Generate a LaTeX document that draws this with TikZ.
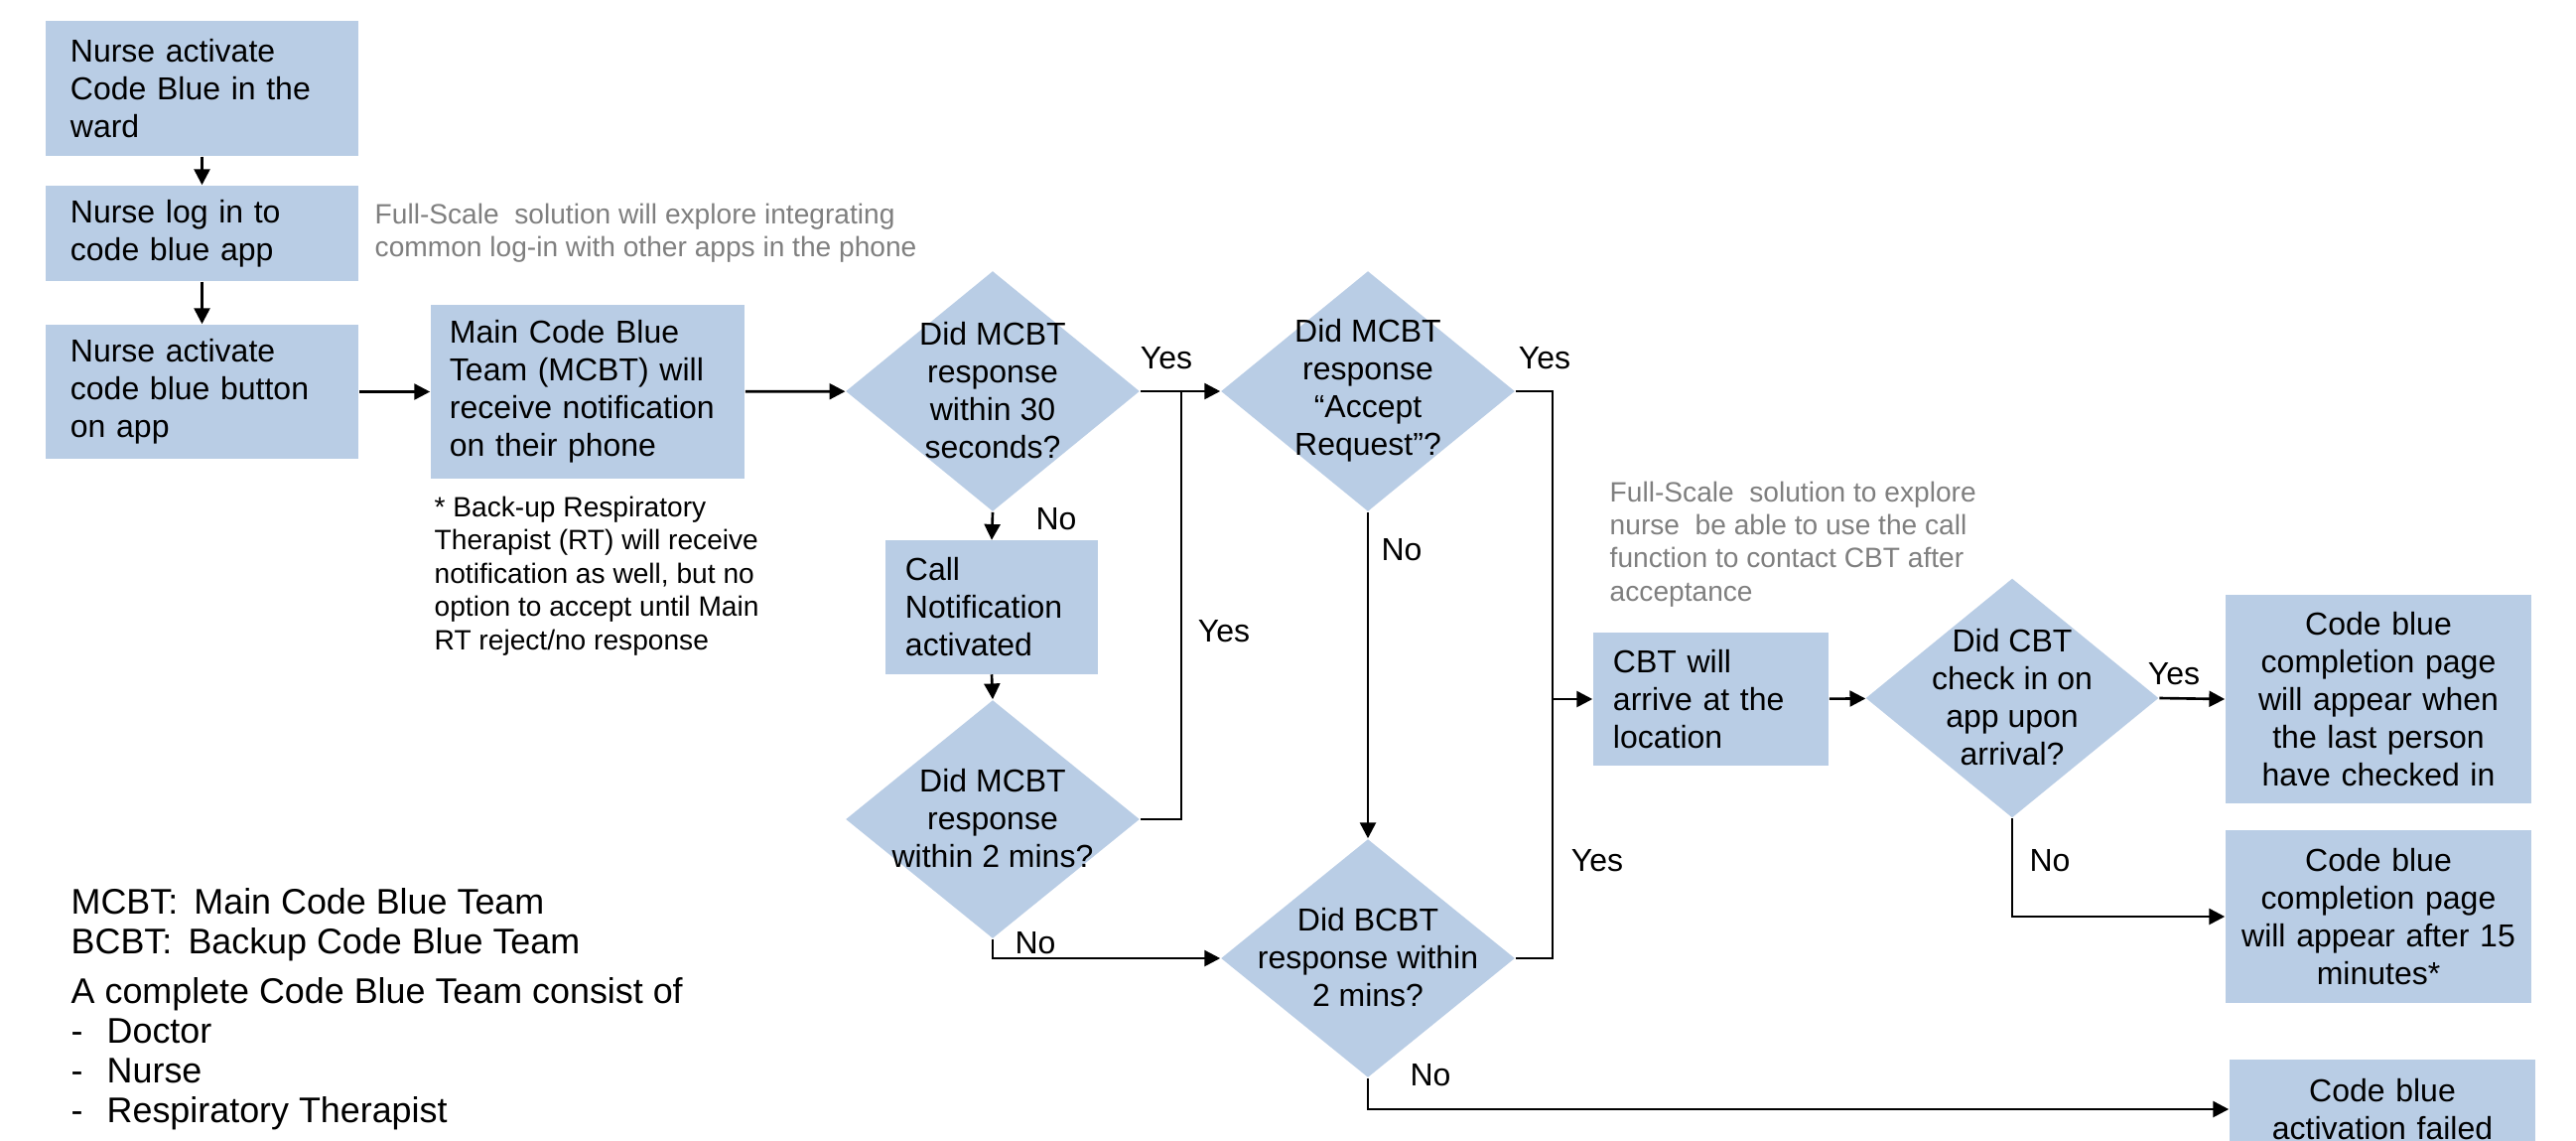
\documentclass[tikz,border=0pt]{standalone}
\usepackage{fontspec}
\setmainfont{Liberation Sans}
\usetikzlibrary{arrows.meta,shapes.geometric}
\definecolor{boxblue}{HTML}{B9CDE5}
\definecolor{notegray}{HTML}{7F7F7F}
\tikzset{
  base/.style={font=\fontsize{9.1}{10.8}\selectfont},
  stepbox/.style={base, fill=boxblue, inner ysep=0pt, align=left},
  endbox/.style={base, fill=boxblue, inner sep=0pt, align=center, text width=2.95cm},
  decision/.style={base, diamond, fill=boxblue, inner sep=0pt},
  flow/.style={line width=0.75pt, -{Triangle[length=4.5pt,width=4.5pt]}},
  link/.style={line width=0.75pt},
  lbl/.style={base, inner sep=0pt},
  note/.style={font=\fontsize{8}{9.5}\selectfont, align=left, inner sep=0pt, anchor=west},
  legend/.style={font=\fontsize{10.2}{11.4}\selectfont, align=left, inner sep=0pt, anchor=west},
}
\newcommand\dtxt[1]{\makebox[0pt]{\smash{\raisebox{-2pt}{\parbox[c]{3cm}{\centering #1}}}}}
\begin{document}
\begin{tikzpicture}[x=0.01cm,y=-0.01cm]
\useasboundingbox (0,0) rectangle (2595,1148);
\clip (0,0) rectangle (2595,1148);

% process boxes
\node[stepbox, minimum width=3.15cm, minimum height=1.36cm, text width=2.65cm, inner xsep=0.25cm] (A) at (203.5,89) {Nurse activate\\Code Blue in the\\ward};
\node[stepbox, minimum width=3.15cm, minimum height=0.96cm, text width=2.65cm, inner xsep=0.25cm] (B) at (203.5,235) {Nurse log in to\\code blue app};
\node[stepbox, minimum width=3.15cm, minimum height=1.35cm, text width=2.65cm, inner xsep=0.25cm] (C) at (203.5,394.5) {Nurse activate\\code blue button\\on app};
\node[stepbox, minimum width=3.16cm, minimum height=1.74cm, text width=2.78cm, inner xsep=0.19cm] (D) at (592,394.5) {Main Code Blue\\Team (MCBT) will\\receive notification\\on their phone};
\node[stepbox, minimum width=2.14cm, minimum height=1.34cm, text width=1.74cm, inner xsep=0.20cm] (G) at (999,611.5) {Call\\Notification\\activated};
\node[stepbox, minimum width=2.37cm, minimum height=1.34cm, text width=1.97cm, inner xsep=0.20cm] (J) at (1723.5,704) {CBT will\\arrive at the\\location};
\node[endbox, minimum width=3.08cm, minimum height=2.10cm] (L) at (2396,704) {Code blue\\completion page\\will appear when\\the last person\\have checked in};
\node[endbox, minimum width=3.08cm, minimum height=1.74cm] (M) at (2396,923) {Code blue\\completion page\\will appear after 15\\minutes*};
\node[endbox, minimum width=3.08cm, minimum height=1.00cm] (N) at (2400,1117) {Code blue\\activation failed};

% decisions
\node[decision, minimum width=2.96cm, minimum height=2.42cm] (E) at (1000,394) {\dtxt{Did MCBT\\response\\within 30\\seconds?}};
\node[decision, minimum width=2.96cm, minimum height=2.42cm] (F) at (1378,394) {\dtxt{Did MCBT\\response\\\textquotedblleft Accept\\Request\textquotedblright?}};
\node[decision, minimum width=2.96cm, minimum height=2.40cm] (H) at (1000,825) {\dtxt{Did MCBT\\response\\within 2 mins?}};
\node[decision, minimum width=2.96cm, minimum height=2.40cm] (I) at (1378,965) {\dtxt{Did BCBT\\response within\\2 mins?}};
\node[decision, minimum width=2.95cm, minimum height=2.41cm] (K) at (2027,703) {\dtxt{Did CBT\\check in on\\app upon\\arrival?}};

% notes
\node[note, text=notegray] (n1) at (377,234.5) {Full-Scale\ \ solution will explore integrating\\common log-in with other apps in the phone};
\node[note] (n2) at (437,580) {* Back-up Respiratory\\Therapist (RT) will receive\\notification as well, but no\\option to accept until Main\\RT reject/no response};
\node[note, text=notegray] (n3) at (1621,548) {Full-Scale\ \ solution to explore\\nurse\ \ be able to use the call\\function to contact CBT after\\acceptance};
\node[legend] (lg) at (71,1016) {MCBT:\hspace{0.45em}Main Code Blue Team\\BCBT:\hspace{0.45em}Backup Code Blue Team\\[0.1cm]A complete Code Blue Team consist of\\\makebox[0.36cm][l]{-}Doctor\\\makebox[0.36cm][l]{-}Nurse\\\makebox[0.36cm][l]{-}Respiratory Therapist};

% junctions
\coordinate (j1) at (1190,394);
\coordinate (j2) at (1564,704);

% connectors
\draw[flow] (A) -- (B);
\draw[flow] (B) -- (C);
\draw[flow] (C) -- (D);
\draw[flow] (D) -- (E);
\draw[flow] (E.east) -- (F.west);
\draw[flow] (E.south) -- (G.north);
\draw[flow] (G.south) -- (H.north);
\draw[link] (H.east) -| (j1);
\draw[flow] (H.south) |- (I.west);
\draw[flow] (F.south) -- (I.north);
\draw[link] (F.east) -| (j2);
\draw[link] (I.east) -| (j2);
\draw[flow] (j2) -- (J.west);
\draw[flow] (I.south) |- (N.west);
\draw[flow] (J) -- (K);
\draw[flow] (K.east) -- (L.west);
\draw[flow] (K.south) |- (M.west);

% labels
\node[lbl] (y1) at (1175,361) {Yes};
\node[lbl] (o1) at (1064,523) {No};
\node[lbl] (y2) at (1233,636) {Yes};
\node[lbl] (o2) at (1043,950) {No};
\node[lbl] (o3) at (1412,554) {No};
\node[lbl] (y3) at (1556,361) {Yes};
\node[lbl] (y4) at (1609,867) {Yes};
\node[lbl] (o4) at (1441,1083) {No};
\node[lbl] (y5) at (2190,679) {Yes};
\node[lbl] (o5) at (2065,867) {No};
\end{tikzpicture}
\end{document}
